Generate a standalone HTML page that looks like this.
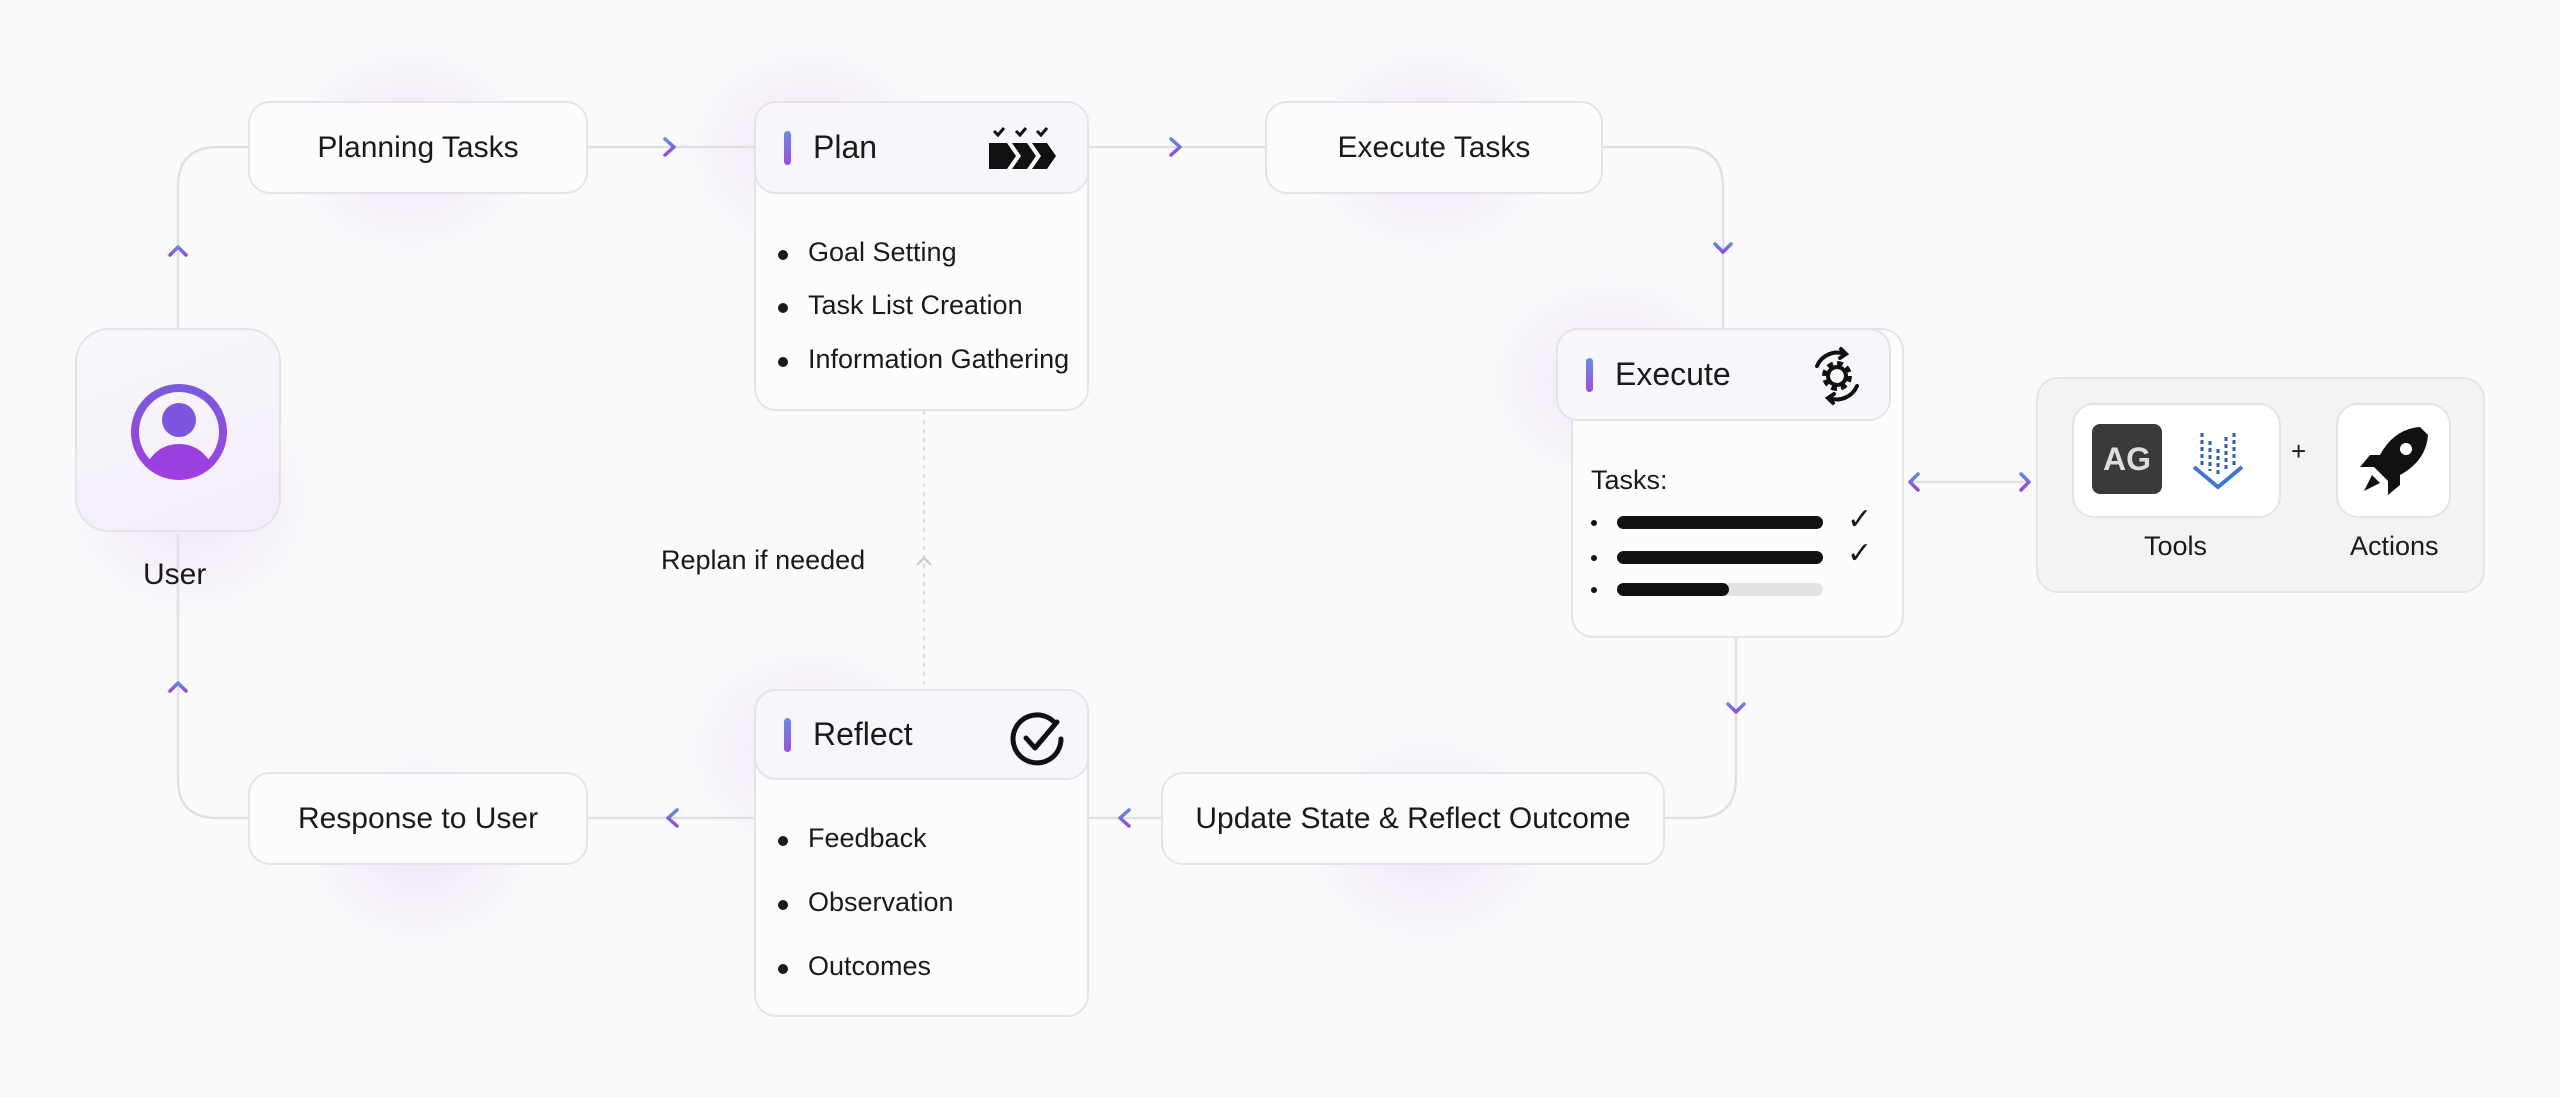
<!DOCTYPE html>
<html><head><meta charset="utf-8"><style>
body{margin:0;width:2560px;height:1097px;background:#fafafa;position:relative;overflow:hidden;font-family:"Liberation Sans",sans-serif;color:#1a1a1a}
.g{position:absolute;border-radius:50%;background:radial-gradient(closest-side,rgba(205,160,240,.24),rgba(205,160,240,0))}
.b{position:absolute;box-sizing:border-box;background:#fcfcfd;border:2px solid #e4e4e8;border-radius:22px}
.c{display:flex;align-items:center;justify-content:center;font-size:30px}
.h{display:flex;align-items:center;font-size:32px;padding-left:28px}
.bar{width:7px;height:34px;border-radius:4px;background:linear-gradient(#6a8ae8,#9a4ee0);margin-right:22px}
ul{margin:0;padding:0;list-style:none}
li{font-size:27px;position:absolute;left:52px}
li:before{content:"";position:absolute;left:-30px;top:13px;width:10px;height:10px;border-radius:50%;background:#1a1a1a}
.t{position:absolute;font-size:29px}
</style></head><body>
<div class="g" style="left:280px;top:40px;width:260px;height:220px"></div>
<div class="g" style="left:680px;top:40px;width:260px;height:220px"></div>
<div class="g" style="left:1300px;top:40px;width:260px;height:220px"></div>
<div class="g" style="left:1480px;top:270px;width:260px;height:220px"></div>
<div class="g" style="left:60px;top:380px;width:260px;height:240px"></div>
<div class="g" style="left:680px;top:640px;width:260px;height:220px"></div>
<div class="g" style="left:1300px;top:730px;width:260px;height:220px"></div>
<div class="g" style="left:300px;top:750px;width:240px;height:200px"></div>
<svg style="position:absolute;left:0;top:0" width="2560" height="1097">
<defs><linearGradient id="ag" x1="0" y1="0" x2="0" y2="1"><stop offset="0" stop-color="#5b8be0"/><stop offset="1" stop-color="#9a45e0"/></linearGradient>
<linearGradient id="ug" x1="0" y1="0" x2="0" y2="1"><stop offset="0" stop-color="#7a5ae0"/><stop offset="1" stop-color="#a23ee0"/></linearGradient></defs>
<g fill="none" stroke="#e0e0e3" stroke-width="2.5">
<path d="M248 147 H218 Q178 147 178 187 V328"/>
<path d="M178 534 V780 Q178 818 218 818 H248"/>
<path d="M588 147 H754"/><path d="M1089 147 H1265"/>
<path d="M1603 147 H1683 Q1723 147 1723 187 V328"/>
<path d="M1736 638 V778 Q1736 818 1696 818 H1665"/>
<path d="M1161 818 H1089"/><path d="M754 818 H588"/>
<path d="M1910 482 H2029"/>
<path d="M924 411 V689" stroke-dasharray="4 5"/>
</g>
<g fill="none" stroke="url(#ag)" stroke-width="3.5" stroke-linecap="round" stroke-linejoin="round">
<path d="M665 139 l9 8 -9 8"/><path d="M1171 139 l9 8 -9 8"/>
<path d="M170 255 l8 -8 8 8"/><path d="M170 691 l8 -8 8 8"/>
<path d="M1715 244 l8 8 8 -8"/><path d="M1728 704 l8 8 8 -8"/>
<path d="M677 810 l-9 8 9 8"/><path d="M1129 810 l-9 8 9 8"/>
<path d="M1918 474 l-8 8 8 8"/><path d="M2021 474 l8 8 -8 8"/>
</g>
<path d="M917 565 l7 -7 7 7" fill="none" stroke="#ccc" stroke-width="2.5"/>
</svg>
<div class="b c" style="left:248px;top:101px;width:340px;height:93px">Planning Tasks</div>
<div class="b c" style="left:1265px;top:101px;width:338px;height:93px">Execute Tasks</div>
<div class="b c" style="left:248px;top:772px;width:340px;height:93px">Response to User</div>
<div class="b c" style="left:1161px;top:772px;width:504px;height:93px">Update State &amp; Reflect Outcome</div>
<div class="b" style="left:754px;top:101px;width:335px;height:310px"><ul>
<li style="top:134px">Goal Setting</li><li style="top:187px">Task List Creation</li><li style="top:241px">Information Gathering</li></ul></div>
<div class="b h" style="left:754px;top:101px;width:335px;height:93px;background:#f7f6fa"><div class="bar"></div>Plan
<svg style="position:absolute;right:20px;top:20px" width="80" height="52"><g fill="#111"><path d="M2 20 h18 l9 13 -9 13 h-18z"/><path d="M25 20 h15 l9 13 -9 13 h-15 l9 -13z"/><path d="M45 20 h15 l9 13 -9 13 h-15 l9 -13z"/></g><g fill="none" stroke="#111" stroke-width="3"><path d="M7 8 l4 4 6 -7"/><path d="M29 8 l4 4 6 -7"/><path d="M50 8 l4 4 6 -7"/></g></svg></div>
<div class="b" style="left:754px;top:689px;width:335px;height:328px"><ul>
<li style="top:132px">Feedback</li><li style="top:196px">Observation</li><li style="top:260px">Outcomes</li></ul></div>
<div class="b h" style="left:754px;top:689px;width:335px;height:91px;background:#f7f6fa"><div class="bar"></div>Reflect
<svg style="position:absolute;right:20px;top:18px" width="58" height="58"><path d="M46 14 A24 24 0 1 0 52 30" fill="none" stroke="#111" stroke-width="5" stroke-linecap="round"/><path d="M17 29 l9 10 22 -26" fill="none" stroke="#111" stroke-width="5" stroke-linecap="round" stroke-linejoin="round"/></svg></div>
<div class="b" style="left:1571px;top:328px;width:333px;height:310px">
<div class="t" style="left:18px;top:135px;font-size:27px">Tasks:</div>
<div style="position:absolute;left:18px;top:190px;width:6px;height:6px;border-radius:50%;background:#111"></div>
<div style="position:absolute;left:44px;top:186px;width:206px;height:13px;border-radius:7px;background:#111"></div>
<div style="position:absolute;left:18px;top:225px;width:6px;height:6px;border-radius:50%;background:#111"></div>
<div style="position:absolute;left:44px;top:221px;width:206px;height:13px;border-radius:7px;background:#111"></div>
<div style="position:absolute;left:18px;top:257px;width:6px;height:6px;border-radius:50%;background:#111"></div>
<div style="position:absolute;left:44px;top:253px;width:206px;height:13px;border-radius:7px;background:#e2e2e2"></div>
<div style="position:absolute;left:44px;top:253px;width:112px;height:13px;border-radius:7px;background:#111"></div>
<div class="t" style="left:274px;top:172px;font-size:30px;font-family:'DejaVu Sans'">✓</div>
<div class="t" style="left:274px;top:206px;font-size:30px;font-family:'DejaVu Sans'">✓</div>
</div>
<div class="b h" style="left:1556px;top:328px;width:335px;height:93px;background:#f7f6fa"><div class="bar"></div>Execute
<svg style="position:absolute;right:20px;top:14px" width="64" height="64" viewBox="0 0 64 64"><g fill="none" stroke="#111" stroke-width="4" stroke-linecap="round"><path d="M12 22 A22 22 0 0 1 40 10"/><path d="M52 42 A22 22 0 0 1 24 54"/><path d="M36 5 l5 5 -6 4"/><path d="M28 59 l-5 -5 6 -4"/></g><circle cx="32" cy="32" r="11" fill="none" stroke="#111" stroke-width="8" stroke-dasharray="5 3.6"/><circle cx="32" cy="32" r="9" fill="none" stroke="#111" stroke-width="4"/></svg></div>
<div class="b" style="left:75px;top:328px;width:206px;height:204px;border-radius:34px;background:linear-gradient(160deg,#f8f8fb,#f3ecfa)">
<svg style="position:absolute;left:52px;top:52px" width="100" height="100"><circle cx="50" cy="50" r="44" fill="none" stroke="url(#ug)" stroke-width="8"/><circle cx="50" cy="38" r="17" fill="#7c55df"/><path d="M19 80 Q30 62 50 62 Q70 62 81 80 A44 44 0 0 1 19 80z" fill="#9a40df"/></svg></div>
<div class="t" style="left:143px;top:558px;font-size:30px">User</div>
<div class="t" style="left:661px;top:545px;font-size:27px">Replan if needed</div>
<div class="b" style="left:2036px;top:377px;width:449px;height:216px;background:#f3f3f4">
<div class="b" style="left:34px;top:24px;width:209px;height:115px;background:#fff"></div>
<div class="b" style="left:298px;top:24px;width:115px;height:115px;background:#fff"></div>
<div style="position:absolute;left:54px;top:45px;width:70px;height:70px;border-radius:8px;background:#3a3a3c;color:#ddd;font-size:32px;font-weight:bold;display:flex;align-items:center;justify-content:center">AG</div>
<svg style="position:absolute;left:152px;top:50px" width="56" height="62"><g stroke="#2d5cb0" stroke-width="3" stroke-dasharray="4 3"><path d="M12 4v34M20 12v30M28 20v28M36 8v32M44 4v32"/></g><path d="M4 38 l24 20 24 -20" fill="none" stroke="#3b78d4" stroke-width="4"/></svg>
<div class="t" style="left:253px;top:57px;font-size:26px">+</div>
<svg style="position:absolute;left:316px;top:42px" width="80" height="80" viewBox="0 0 80 80"><path d="M66 6 Q40 8 26 34 L16 34 L6 46 L20 46 L34 60 L34 74 L46 64 L46 54 Q72 40 74 14z" fill="#111"/><circle cx="52" cy="28" r="6" fill="#fff"/><path d="M18 54 L10 70 L26 62z" fill="#111"/></svg>
<div class="t" style="left:106px;top:152px;font-size:27px">Tools</div>
<div class="t" style="left:312px;top:152px;font-size:27px">Actions</div>
</div>
</body></html>
